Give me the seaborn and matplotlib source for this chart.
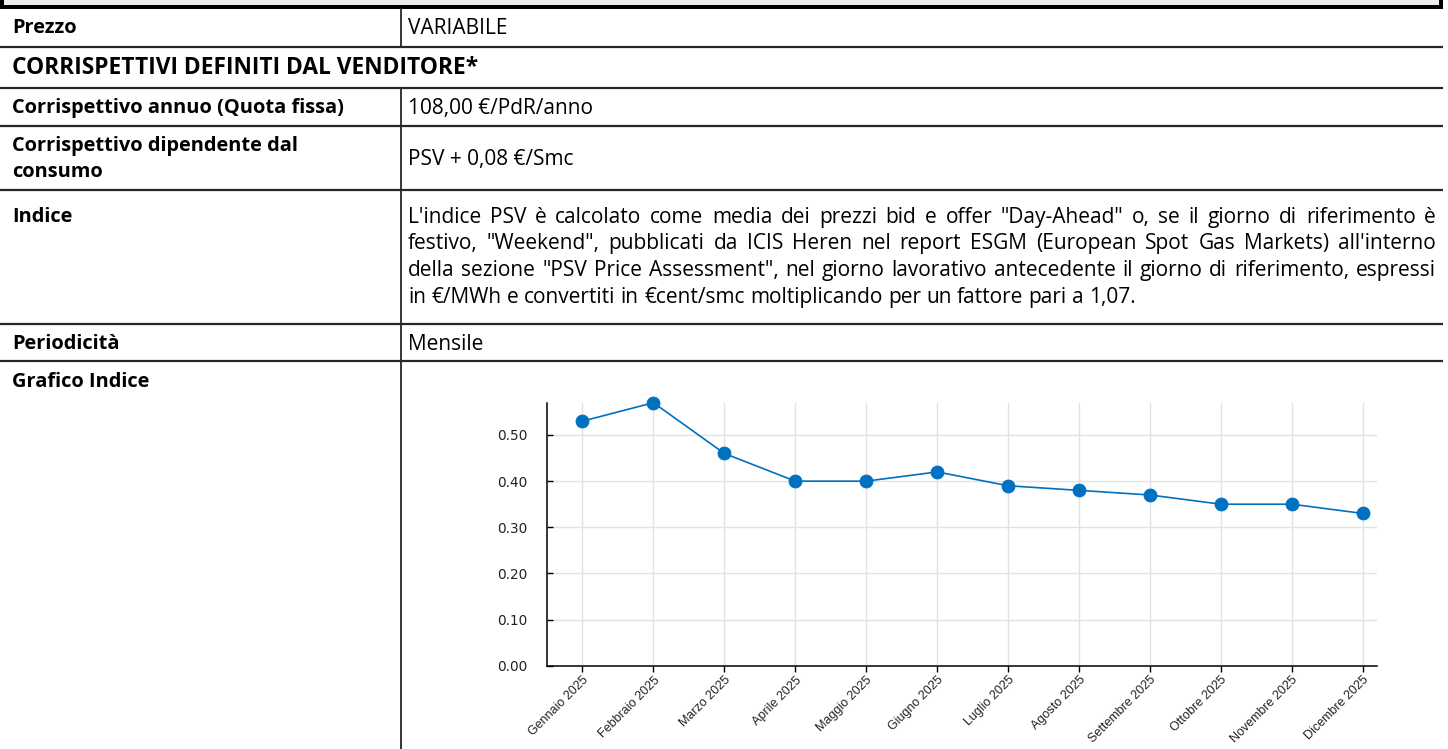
# pip install pandas matplotlib seaborn

import numpy as np
import pandas as pd
import matplotlib.pyplot as plt
import seaborn as sns
from matplotlib.patches import Rectangle

# Valori dell'indice PSV
mesi = ['Gennaio 2025', 'Febbraio 2025', 'Marzo 2025', 'Aprile 2025', 'Maggio 2025', 'Giugno 2025',
        'Luglio 2025', 'Agosto 2025', 'Settembre 2025', 'Ottobre 2025', 'Novembre 2025', 'Dicembre 2025']
psv = [0.53, 0.57, 0.46, 0.40, 0.40, 0.42, 0.39, 0.38, 0.37, 0.35, 0.35, 0.33]
y_ticks = [0.0, 0.1, 0.2, 0.3, 0.4, 0.5]

# Testi della tabella
etichette = ['Prezzo', 'Corrispettivo annuo (Quota fissa)', 'Corrispettivo dipendente dal\nconsumo',
             'Indice', 'Periodicità', 'Grafico Indice']
valori = ['VARIABILE', '108,00 €/PdR/anno', 'PSV + 0,08 €/Smc', None, 'Mensile', None]
intestazione = 'CORRISPETTIVI DEFINITI DAL VENDITORE*'
indice_righe = [
    'L\'indice PSV è calcolato come media dei prezzi bid e offer "Day-Ahead" o, se il giorno di riferimento è',
    'festivo, "Weekend", pubblicati da ICIS Heren nel report ESGM (European Spot Gas Markets) all\'interno',
    'della sezione "PSV Price Assessment", nel giorno lavorativo antecedente il giorno di riferimento, espressi',
    'in €/MWh e convertiti in €cent/smc moltiplicando per un fattore pari a 1,07.',
]

W, H = 1448, 749
fig = plt.figure(figsize=(W / 100, H / 100), dpi=100)
renderer = fig.canvas.get_renderer()

# asse di sfondo in pixel per la tabella
bg = fig.add_axes([0, 0, 1, 1])
bg.set_xlim(0, W)
bg.set_ylim(H, 0)
bg.axis('off')

font = 'Open Sans'


def fit_size(s, target, weight='normal'):
    # dimensione del font che dà la larghezza voluta (in pixel)
    t = bg.text(0, 0, s, family=font, fontsize=10, fontweight=weight)
    w = t.get_window_extent(renderer).width
    t.remove()
    return 10 * target / w


fs = fit_size(indice_righe[3], 733)
fs_b = fit_size(etichette[1], 333, 'bold')
fs_h = fit_size(intestazione, 466, 'bold')

# bordo della tabella precedente
bg.add_patch(Rectangle((0, 0), 1443, 9, color='black', lw=0))
bg.add_patch(Rectangle((4, 0), 1435, 4.5, color='#ececec', lw=0))

lc = '#262626'
for y in [46.5, 88, 126, 190, 323.5, 361]:
    bg.plot([0, 1443], [y, y], color=lc, lw=1.6, solid_capstyle='butt')
bg.plot([401, 401], [9, 46.5], color=lc, lw=1.3)
bg.plot([401, 401], [88, H], color=lc, lw=1.3)

dy = 2.2
lab_y = [26, 106, 157, 215, 342, 380]
for lab, val, y in zip(etichette, valori, lab_y):
    bg.text(12, y + dy, lab, family=font, fontsize=fs_b, fontweight='bold', va='center',
            linespacing=1.4, color='black')
    if val:
        bg.text(408, y + dy, val, family=font, fontsize=fs, va='center', color='black')
bg.text(12, 66 + dy, intestazione, family=font, fontsize=fs_h, fontweight='bold', va='center')

# testo giustificato dell'indice
x0, x1 = 408, 1436
for i, riga in enumerate(indice_righe):
    y = 215 + dy + i * 26.7
    words = riga.split(' ')
    arts = [bg.text(0, y, w, family=font, fontsize=fs, va='center') for w in words]
    widths = [a.get_window_extent(renderer).width for a in arts]
    if i < len(indice_righe) - 1:
        gap = (x1 - x0 - sum(widths)) / (len(words) - 1)
    else:
        sp = bg.text(0, 0, 'a a', family=font, fontsize=fs)
        sa = bg.text(0, 0, 'aa', family=font, fontsize=fs)
        gap = sp.get_window_extent(renderer).width - sa.get_window_extent(renderer).width
        sp.remove()
        sa.remove()
    x = x0
    for a, w in zip(arts, widths):
        a.set_x(x)
        x += w + gap

# grafico
ax = fig.add_axes([547 / W, (H - 665.7) / H, (1377 - 547) / W, 263 / H])
df = pd.DataFrame({'mese': mesi, 'psv': psv})
df['pos'] = np.arange(len(df))
sns.lineplot(data=df, x='pos', y='psv', marker='o', color='#0070c0', lw=1.2,
             markersize=9.2, markeredgecolor='#0070c0', sort=False, ax=ax, clip_on=False)
ax.set_xlim(-0.5, len(mesi) - 1 + 0.2)
ax.set_ylim(0, 0.57)
ax.set_xticks(df['pos'])
ax.set_xticklabels(mesi, rotation=45, ha='right', rotation_mode='anchor',
                   family='Liberation Sans', fontsize=9.0, color='#222222')
ax.set_yticks(y_ticks)
ax.set_yticklabels([f'{v:.2f}' for v in y_ticks], family='DejaVu Sans', fontsize=9.8, color='#222222')
ax.set_xlabel('')
ax.set_ylabel('')
ax.grid(True, color='#e2e2e2', lw=1)
ax.set_axisbelow(True)
for s in ['top', 'right']:
    ax.spines[s].set_visible(False)
for s in ['left', 'bottom']:
    ax.spines[s].set_color('black')
    ax.spines[s].set_linewidth(1.1)
ax.tick_params(axis='y', direction='in', length=4, width=1, pad=14)
ax.tick_params(axis='x', direction='out', length=4, width=1, pad=2)

fig.savefig('out.png', dpi=100)
